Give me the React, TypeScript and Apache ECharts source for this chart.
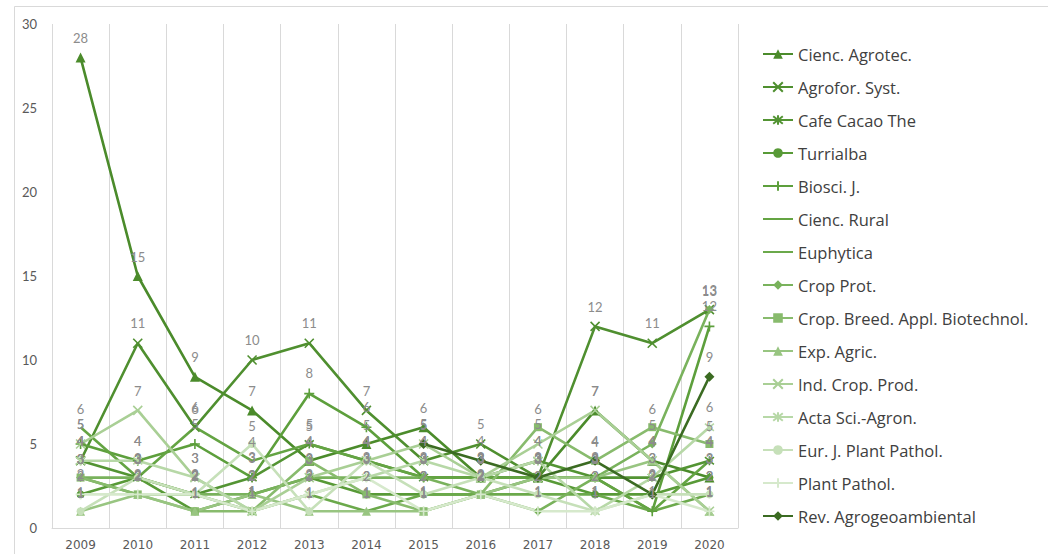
import React, { useEffect, useRef } from "react";
import * as echarts from "echarts";

// ---------- data ----------
const years = ["2009", "2010", "2011", "2012", "2013", "2014", "2015", "2016", "2017", "2018", "2019", "2020"];
const yTicks = { min: 0, max: 30, interval: 5 };

const cienc_agrotec = [28, 15, 9, 7, 4, 5, 6, 3, 3, 7, 4, 3];
const agrofor_syst = [4, 11, 6, 10, 11, 7, 4, 5, 3, 12, 11, 13];
const cafe_cacao_the = [4, 3, 2, 3, 5, 4, 3, 3, 4, 3, 3, 4];
const turrialba = [2, 3, 1, 2, 3, 2, 2, 2, 3, 2, 2, 3];
const biosci_j = [5, 4, 5, 3, 8, 6, 3, 3, 3, 3, 1, 12];
const cienc_rural = [6, 3, 6, 4, 5, 4, 3, 3, 3, 3, 1, 4];
const euphytica = [3, 2, 2, 1, 2, 1, 2, 2, 2, 2, 1, 2];
const crop_prot = [3, 3, 2, 2, 3, 3, 3, 2, 1, 3, 5, 13];
const crop_breed = [3, 2, 1, 1, 4, 2, 1, 2, 6, 4, 6, 5];
const exp_agric = [1, 2, 1, 2, 1, 1, 1, 2, 3, 3, 4, 1];
const ind_crop_prod = [5, 7, 3, 1, 3, 4, 5, 3, 5, 7, 4, 1];
const acta_sci_agron = [4, 4, 3, 1, 2, 3, 4, 3, 4, 1, 3, 6];
const eur_j_plant_pathol = [1, 3, 2, 5, 1, 4, 2, 3, 2, 1, 2, 2];
const plant_pathol = [2, 2, 2, 1, 2, 3, 1, 2, 1, 1, 2, 1];
const rev_agrogeoambiental = [null, null, null, null, null, null, 5, 4, 3, 4, 2, 9];

const seriesNames = [
  "Cienc. Agrotec.",
  "Agrofor. Syst.",
  "Cafe Cacao The",
  "Turrialba",
  "Biosci. J.",
  "Cienc. Rural",
  "Euphytica",
  "Crop Prot.",
  "Crop. Breed. Appl. Biotechnol.",
  "Exp. Agric.",
  "Ind. Crop. Prod.",
  "Acta Sci.-Agron.",
  "Eur. J. Plant Pathol.",
  "Plant Pathol.",
  "Rev. Agrogeoambiental",
];
const seriesValues = [
  cienc_agrotec, agrofor_syst, cafe_cacao_the, turrialba, biosci_j, cienc_rural, euphytica,
  crop_prot, crop_breed, exp_agric, ind_crop_prod, acta_sci_agron, eur_j_plant_pathol,
  plant_pathol, rev_agrogeoambiental,
];

// ---------- styles ----------
const X_PATH = "path://M0,0L10,10M10,0L0,10";
const STAR_PATH = "path://M1,1L9,9M9,1L1,9M5,0L5,10";
const PLUS_PATH = "path://M5,0L5,10M0,5L10,5";

const colors = [
  "#4b8b2b", "#4f8f2f", "#539433", "#589a37", "#5d9f3c", "#64a443", "#6ba94b",
  "#79b25c", "#88bb6d", "#98c581", "#a9cf95", "#b7d8a7", "#c6e0b9", "#d6e9cc", "#3b6b22",
];
// marker kind per series: [symbol, stroked?, size]
const markers: [string, boolean, number][] = [
  ["triangle", false, 10],
  [X_PATH, true, 9],
  [STAR_PATH, true, 9],
  ["circle", false, 8],
  [PLUS_PATH, true, 10],
  ["none", false, 8],
  ["none", false, 8],
  ["diamond", false, 9],
  ["rect", false, 8],
  ["triangle", false, 9],
  [X_PATH, true, 9],
  [STAR_PATH, true, 9],
  ["circle", false, 8],
  [PLUS_PATH, true, 10],
  ["diamond", false, 10],
];

const FONT = 'Lato, "Open Sans", "Liberation Sans", sans-serif';
const LEGEND_FONT = '"Open Sans", Lato, sans-serif';

export default function App() {
  const ref = useRef<HTMLDivElement>(null);

  useEffect(() => {
    if (!ref.current) return;
    const chart = echarts.init(ref.current, null, { renderer: "svg" });

    const series = seriesNames.map((name, i) => {
      const [sym, stroked, size] = markers[i];
      const c = colors[i];
      const hidden = sym === "none";
      return {
        name,
        type: "line",
        data: seriesValues[i],
        symbol: hidden ? "circle" : sym,
        symbolSize: size,
        showSymbol: true,
        connectNulls: false,
        lineStyle: { color: c, width: 2.6 },
        itemStyle: hidden
          ? { color: "rgba(0,0,0,0)", borderWidth: 0 }
          : stroked
          ? { color: c, borderColor: c, borderWidth: 1.6 }
          : { color: c, borderWidth: 0 },
        label: {
          show: true,
          position: "top",
          distance: 8,
          color: "#8c8c8c",
          fontSize: 13,
          fontFamily: FONT,
        },
        emphasis: { disabled: true },
        z: 2,
      };
    });

    chart.setOption({
      animation: false,
      textStyle: { fontFamily: FONT },
      grid: { left: 52, top: 24, width: 686, height: 504 },
      graphic: [
        {
          type: "rect",
          shape: { x: 14.5, y: 6.5, width: 1100, height: 600 },
          style: { fill: "none", stroke: "#d9d9d9", lineWidth: 1 },
          silent: true,
          z: -10,
        },
      ],
      xAxis: {
        type: "category",
        data: years,
        boundaryGap: true,
        axisLine: { show: true, lineStyle: { color: "#d9d9d9", width: 1 } },
        axisTick: { show: false },
        splitLine: { show: true, lineStyle: { color: "#d9d9d9", width: 1 } },
        axisLabel: { color: "#595959", fontSize: 12, margin: 11, fontFamily: '"DejaVu Sans", sans-serif' },
      },
      yAxis: {
        type: "value",
        min: yTicks.min,
        max: yTicks.max,
        interval: yTicks.interval,
        axisLine: { show: false },
        axisTick: { show: false },
        splitLine: { show: false },
        axisLabel: { color: "#595959", fontSize: 13, margin: 15 },
      },
      legend: {
        orient: "vertical",
        left: 757,
        top: 38,
        padding: 5,
        itemWidth: 30,
        itemHeight: 12,
        itemGap: 11,
        textStyle: { color: "#404040", fontSize: 16.5, fontFamily: LEGEND_FONT, lineHeight: 22 },
        data: seriesNames,
      },
      series,
    });

    return () => chart.dispose();
  }, []);

  return (
    <div
      ref={ref}
      style={{ position: "fixed", left: 0, top: 0, width: 1048, height: 554, background: "#ffffff" }}
    />
  );
}
